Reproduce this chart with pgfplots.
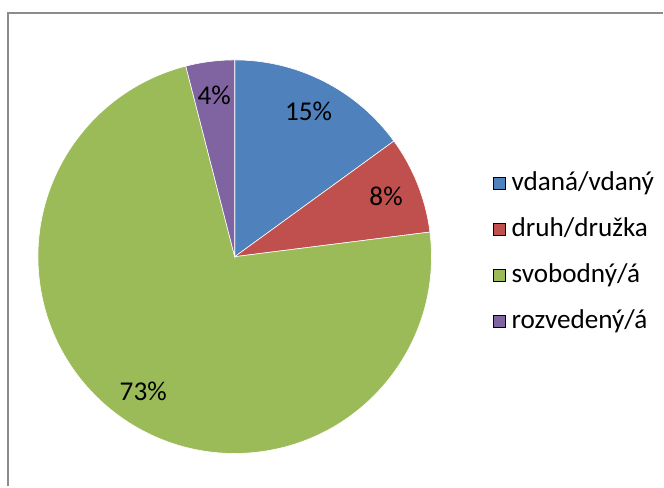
\documentclass[border=0pt]{standalone}
\usepackage{fontspec}
\setmainfont{Carlito}
\usepackage{pgfplots}
\usepackage{pgfplotstable}
\pgfplotsset{compat=1.18}

\definecolor{pieblue}{HTML}{4F81BD}
\definecolor{piered}{HTML}{C0504D}
\definecolor{piegreen}{HTML}{9BBB59}
\definecolor{piepurple}{HTML}{8064A2}
\definecolor{framegray}{HTML}{8C8C8C}

% podíly v procentech, ve směru hodinových ručiček od 12 hodin
\pgfplotstableread{
value color
15 pieblue
8  piered
73 piegreen
4  piepurple
}\piedata

\newcommand{\labelfont}{\fontsize{13.6}{16.3}\selectfont}

\begin{document}
\begin{tikzpicture}
\begin{axis}[
    scale only axis,
    width=332pt, height=243.5pt,
    xmin=0, xmax=664,
    ymin=0, ymax=487,
    y dir=reverse,
    hide axis,
    clip=false,
    font=\labelfont,
    legend image code/.code={\fill[#1] (0pt,-2.6pt) rectangle (6pt,3.2pt);},
    legend cell align=left,
    legend style={
        at={(axis cs:487,168)},
        anchor=north west,
        draw=none,
        fill=none,
        row sep=11pt,
        nodes={inner sep=0pt, text height=9pt, text depth=3pt},
        /tikz/every odd column/.append style={column sep=3pt},
    },
]
\path (axis cs:0,0) (axis cs:664,487);

\def\cum{0}
\pgfplotsforeachungrouped \i in {0,...,3}{
    \pgfplotstablegetelem{\i}{value}\of\piedata \let\val\pgfplotsretval
    \pgfplotstablegetelem{\i}{color}\of\piedata \let\col\pgfplotsretval
    \pgfmathsetmacro\sa{90-3.6*\cum}
    \pgfmathsetmacro\ea{90-3.6*(\cum+\val)}
    \pgfmathsetmacro\ma{(\sa+\ea)/2}
    \edef\temp{%
        \noexpand\fill[\col, draw=white, line width=0.3pt]
            (axis cs:235,257) -- ++(\sa:98.5pt)
            arc[start angle=\sa, end angle=\ea, radius=98.5pt] -- cycle;
        \noexpand\node[shift={(\ma:81.5pt)}] at (axis cs:235,257) {\val\noexpand\%};
    }
    \temp
    \pgfmathsetmacro\cum{\cum+\val}
}

% rámeček grafu
\draw[framegray, line width=0.8pt] (axis cs:8,487) -- (axis cs:8,13) -- (axis cs:664,13);

\addlegendimage{fill=pieblue}
\addlegendentry{vdaná/vdaný}
\addlegendimage{fill=piered}
\addlegendentry{druh/družka}
\addlegendimage{fill=piegreen}
\addlegendentry{svobodný/á}
\addlegendimage{fill=piepurple}
\addlegendentry{rozvedený/á}
\end{axis}
\end{tikzpicture}
\end{document}
